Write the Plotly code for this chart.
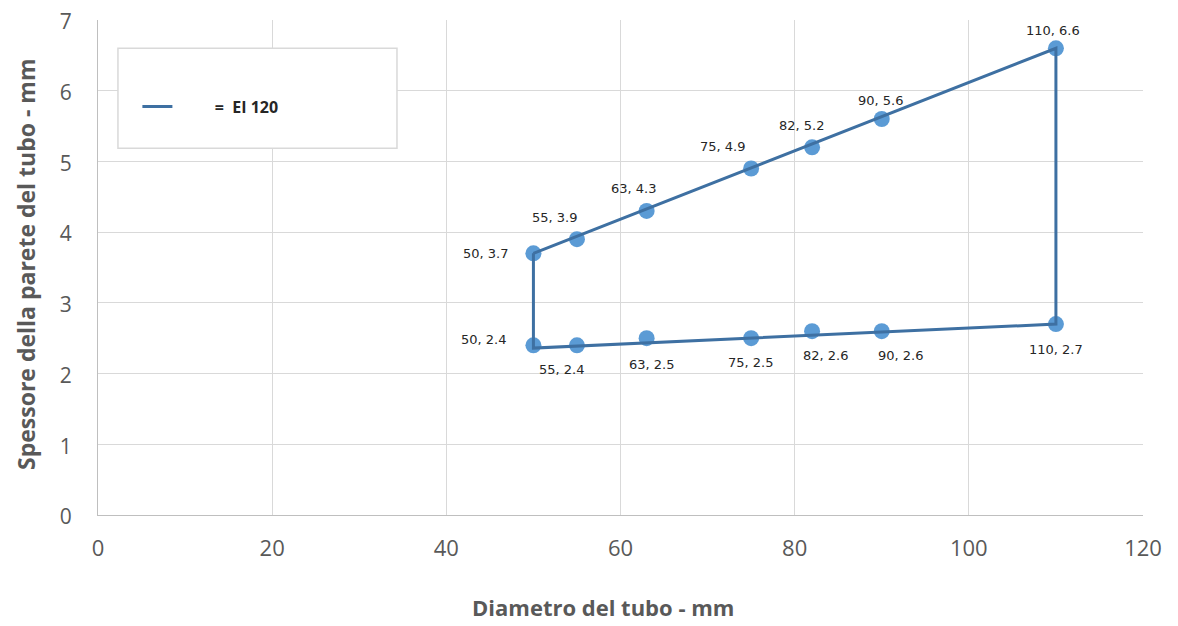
import plotly.graph_objs as go

# data
diametro = [50, 55, 63, 75, 82, 90, 110, 50, 55, 63, 75, 82, 90, 110]
spessore = [3.7, 3.9, 4.3, 4.9, 5.2, 5.6, 6.6, 2.4, 2.4, 2.5, 2.5, 2.6, 2.6, 2.7]
# outline of the EI 120 region
contorno_x = [50, 110, 110, 50, 50]
contorno_y = [3.7, 6.6, 2.7, 2.36, 3.7]
x_ticks = [0, 20, 40, 60, 80, 100, 120]
y_ticks = [0, 1, 2, 3, 4, 5, 6, 7]

# label offsets in pixels (text centre relative to point)
label_dx = [-48, -22, -13, -29, -11, -1, -3, -50, -15, 5, -1, 13, 19, 0]
label_dy = [0, 22, 22, 22, 22, 19, 18, 6, -24, -26, -24, -24, -24, -25]

gray = '#595959'
grid = '#D9D9D9'
nb = '\u00a0'

punti = go.Scatter(x=diametro, y=spessore, mode='markers',
                   marker=dict(size=16, color='#5B9BD5'),
                   showlegend=False, hoverinfo='x+y')
contorno = go.Scatter(x=contorno_x, y=contorno_y, mode='lines',
                      line=dict(color='#3E70A2', width=3),
                      name=nb * 9 + '<b>=' + nb * 2 + 'EI 120</b>')

annotations = []
for x, y, dx, dy in zip(diametro, spessore, label_dx, label_dy):
    annotations.append(dict(x=x, y=y, text='%g, %g' % (x, y), showarrow=False,
                            xshift=dx, yshift=dy, xanchor='center', yanchor='middle',
                            font=dict(family='DejaVu Sans', size=13, color='#262626')))

# axis titles
annotations.append(dict(text='<b>Diametro del tubo - mm</b>', xref='paper', yref='paper',
                        x=0.483, y=-0.186, showarrow=False, xanchor='center', yanchor='middle',
                        font=dict(family='Open Sans', size=22, color=gray)))
annotations.append(dict(text='<b>Spessore della parete del tubo - mm</b>', xref='paper', yref='paper',
                        x=-0.0689, y=0.507, showarrow=False, textangle=-90,
                        xanchor='center', yanchor='middle',
                        font=dict(family='Open Sans', size=23, color=gray)))

layout = go.Layout(
    width=1178, height=626,
    margin=dict(l=90, r=43, t=12, b=119, autoexpand=False),
    paper_bgcolor='white', plot_bgcolor='white',
    font=dict(family='Open Sans', color=gray),
    xaxis=dict(range=[0, 120], tickvals=x_ticks, showgrid=True, gridcolor=grid,
               zeroline=False, showline=True, linecolor='#BFBFBF', linewidth=1,
               tickfont=dict(size=22, color=gray), ticks='', ticklabelstandoff=14,
               ticklabeloverflow='allow'),
    yaxis=dict(range=[0, 7], tickvals=y_ticks, showgrid=True, gridcolor=grid,
               zeroline=False, showline=True, linecolor='#BFBFBF', linewidth=1,
               tickfont=dict(size=21, color=gray), ticks='', ticklabelstandoff=21,
               ticklabeloverflow='allow', ticklabelshift=2),
    legend=dict(x=0.0377, y=0.825, xanchor='left', yanchor='middle',
                bgcolor='rgba(0,0,0,0)', font=dict(family='Open Sans', size=16, color='#262626')),
    shapes=[dict(type='rect', xref='paper', yref='paper', x0=0.0191, x1=0.2861,
                 y0=0.741, y1=0.943, line=dict(color='#D9D9D9', width=1.5),
                 fillcolor='white', layer='above')],
    annotations=annotations,
)

fig = go.Figure(data=[punti, contorno], layout=layout)
fig.write_html("out.html")
